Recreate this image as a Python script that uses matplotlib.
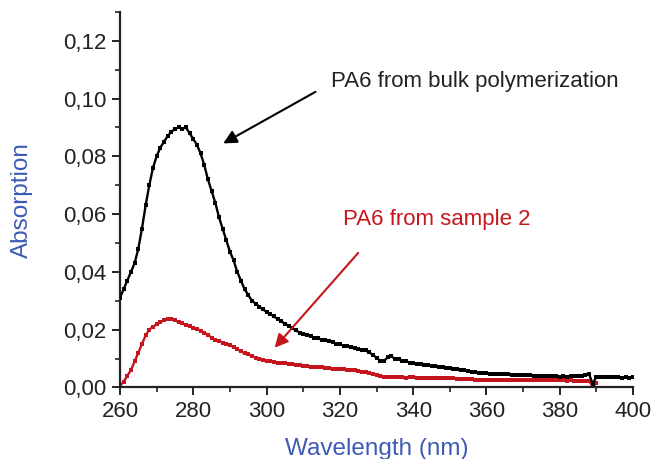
import matplotlib.pyplot as plt
import numpy as np
from matplotlib.ticker import FuncFormatter, MultipleLocator

plt.rcParams.update({"font.family": ["Liberation Sans", "DejaVu Sans"]})

# %% Data (1 nm steps)

bulk_nm = np.arange(260, 401)
bulk_abs = [
    0.031, 0.034, 0.037, 0.040, 0.043, 0.048, 0.055, 0.063, 0.070, 0.076,
    0.080, 0.083, 0.085, 0.087, 0.0885, 0.0895, 0.0900, 0.0895, 0.0900, 0.0880,
    0.0860, 0.0840, 0.0810, 0.0770, 0.0720, 0.0680, 0.0640, 0.0590, 0.0550, 0.0510,
    0.0470, 0.0440, 0.0400, 0.0370, 0.0340, 0.0320, 0.0300, 0.0290, 0.0280, 0.0270,
    0.0262, 0.0253, 0.0247, 0.0236, 0.0230, 0.0220, 0.0214, 0.0205, 0.0197, 0.0190,
    0.0186, 0.0180, 0.0178, 0.0172, 0.0170, 0.0165, 0.0163, 0.0159, 0.0156, 0.0150,
    0.0149, 0.0145, 0.0143, 0.0140, 0.0137, 0.0134, 0.0131, 0.0128, 0.0121, 0.0113,
    0.0102, 0.0093, 0.0090, 0.0104, 0.0107, 0.0100, 0.0097, 0.0092, 0.0091, 0.0086,
    0.0084, 0.0082, 0.0081, 0.0078, 0.0077, 0.0074, 0.0073, 0.0071, 0.0069, 0.0068,
    0.0066, 0.0064, 0.0063, 0.0060, 0.0059, 0.0056, 0.0055, 0.0053, 0.0051, 0.0050,
    0.0049, 0.0048, 0.0047, 0.0047, 0.0046, 0.0045, 0.0045, 0.0044, 0.0044, 0.0043,
    0.0043, 0.0042, 0.0042, 0.0041, 0.0040, 0.0040, 0.0039, 0.0039, 0.0038, 0.0038,
    0.0037, 0.0038, 0.0037, 0.0038, 0.0039, 0.0038, 0.0040, 0.0043, 0.0045, 0.0012,
    0.0037, 0.0036, 0.0037, 0.0035, 0.0036, 0.0035, 0.0036, 0.0034, 0.0035, 0.0034,
    0.0035,
]

sample_nm = np.arange(260, 391)
sample_abs = [
    0.0005, 0.0020, 0.0040, 0.0060, 0.0090, 0.0120, 0.0150, 0.0180, 0.0200, 0.0210,
    0.0218, 0.0226, 0.0232, 0.0236, 0.0236, 0.0232, 0.0226, 0.0222, 0.0216, 0.0212,
    0.0207, 0.0203, 0.0196, 0.0190, 0.0182, 0.0172, 0.0165, 0.0160, 0.0155, 0.0150,
    0.0146, 0.0140, 0.0132, 0.0125, 0.0118, 0.0114, 0.0108, 0.0103, 0.0100, 0.0096,
    0.0093, 0.0090, 0.0087, 0.0085, 0.0084, 0.0083, 0.0082, 0.0080, 0.0078, 0.0076,
    0.0075, 0.0074, 0.0072, 0.0071, 0.0070, 0.0069, 0.0068, 0.0066, 0.0065, 0.0064,
    0.0063, 0.0062, 0.0061, 0.0060, 0.0059, 0.0057, 0.0055, 0.0053, 0.0050, 0.0047,
    0.0044, 0.0040, 0.0037, 0.0037, 0.0036, 0.0036, 0.0035, 0.0035, 0.0034, 0.0035,
    0.0035, 0.0034, 0.0033, 0.0034, 0.0033, 0.0032, 0.0033, 0.0032, 0.0032, 0.0031,
    0.0032, 0.0031, 0.0030, 0.0029, 0.0029, 0.0028, 0.0028, 0.0027, 0.0027, 0.0026,
    0.0026, 0.0026, 0.0026, 0.0025, 0.0026, 0.0026, 0.0025, 0.0026, 0.0025, 0.0025,
    0.0026, 0.0025, 0.0025, 0.0024, 0.0025, 0.0024, 0.0025, 0.0024, 0.0025, 0.0024,
    0.0024, 0.0024, 0.0023, 0.0024, 0.0023, 0.0022, 0.0022, 0.0022, 0.0021, 0.0004,
    0.0015,
]

bulk_label = "PA6 from bulk polymerization"
sample_label = "PA6 from sample 2"

# %% Plot

RED = "#c4161c"
BLUE = "#3d5bb5"
INK = "#222222"

fig = plt.figure(figsize=(6.52, 4.59), dpi=100)
ax = fig.add_axes([0.184, 0.156, 0.787, 0.818])

ax.plot(bulk_nm, bulk_abs, c="k", lw=1.7, marker="s", ms=3.3, mew=0, zorder=3)
ax.plot(sample_nm, sample_abs, c=RED, lw=1.7, marker="s", ms=3.3, mew=0, zorder=2)

ax.set_xlim(260, 400)
ax.set_ylim(0, 0.13)

ax.xaxis.set_major_locator(MultipleLocator(20))
ax.xaxis.set_minor_locator(MultipleLocator(10))
ax.yaxis.set_major_locator(MultipleLocator(0.02))
ax.yaxis.set_minor_locator(MultipleLocator(0.01))
ax.yaxis.set_major_formatter(FuncFormatter(lambda v, _: f"{v:.2f}".replace(".", ",")))

ax.tick_params(which="major", length=6, width=1.4, labelsize=16, color=INK, labelcolor=INK)
ax.tick_params(which="minor", length=3.5, width=1.2, color=INK)

ax.spines[["top", "right"]].set_visible(False)
ax.spines[["left", "bottom"]].set_linewidth(1.6)
ax.spines[["left", "bottom"]].set_color(INK)

ax.set_xlabel("Wavelength (nm)", color=BLUE, fontsize=17.5, labelpad=12)
ax.set_ylabel("Absorption", color=BLUE, fontsize=17.5, labelpad=22)

ax.annotate(
    "",
    xy=(287.5, 0.084),
    xytext=(314, 0.1028),
    arrowprops=dict(arrowstyle="-|>", color="k", lw=1.5, mutation_scale=20),
)
ax.text(317.5, 0.1059, bulk_label, fontsize=16, color=INK, va="center")

ax.annotate(
    "",
    xy=(301.7, 0.013),
    xytext=(325.5, 0.0473),
    arrowprops=dict(arrowstyle="-|>", color=RED, lw=1.5, mutation_scale=20),
)
ax.text(320.8, 0.058, sample_label, fontsize=16, color=RED, va="center")

fig.savefig("out.png", dpi=100)
